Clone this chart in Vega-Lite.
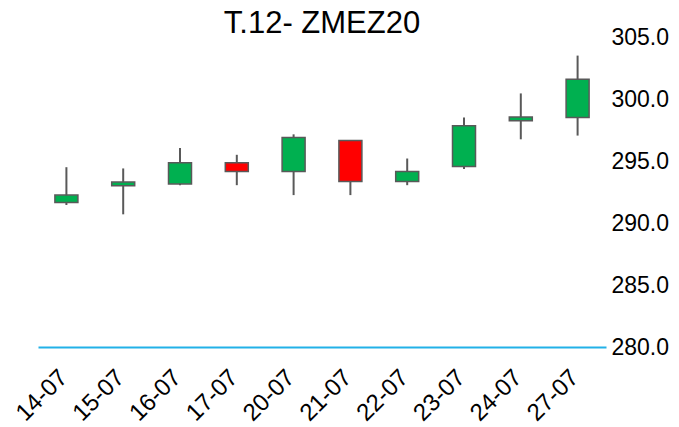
{
  "$schema": "https://vega.github.io/schema/vega-lite/v6.json",
  "autosize": "none",
  "width": 568,
  "height": 310,
  "padding": {"left": 38, "top": 37, "right": 73, "bottom": 80},
  "background": "white",
  "config": {"view": {"stroke": null}, "font": "Liberation Sans"},
  "title": {"text": "T.12- ZMEZ20", "frame": "group", "anchor": "middle", "fontSize": 31, "fontWeight": "normal", "color": "black", "baseline": "alphabetic", "offset": 0, "dy": 38, "font": "Liberation Sans"},
  "data": {"values": [
    {"date": "14-07", "open": 291.65, "close": 292.25, "high": 294.5, "low": 291.45},
    {"date": "15-07", "open": 293.0, "close": 293.3, "high": 294.4, "low": 290.7},
    {"date": "16-07", "open": 293.15, "close": 294.85, "high": 296.05, "low": 293.05},
    {"date": "17-07", "open": 294.85, "close": 294.15, "high": 295.5, "low": 293.05},
    {"date": "20-07", "open": 294.15, "close": 296.9, "high": 297.15, "low": 292.25},
    {"date": "21-07", "open": 296.65, "close": 293.35, "high": 296.65, "low": 292.25},
    {"date": "22-07", "open": 293.35, "close": 294.15, "high": 295.2, "low": 293.05},
    {"date": "23-07", "open": 294.55, "close": 297.85, "high": 298.5, "low": 294.35},
    {"date": "24-07", "open": 298.25, "close": 298.55, "high": 300.45, "low": 296.75},
    {"date": "27-07", "open": 298.5, "close": 301.6, "high": 303.5, "low": 297.05}
  ]},
  "encoding": {
    "x": {"field": "date", "type": "ordinal", "sort": null, "title": null,
      "scale": {"paddingInner": 0, "paddingOuter": 0},
      "axis": {"domainColor": "#22b1e8", "domainWidth": 2, "ticks": false, "labelAngle": -45, "labelFontSize": 24, "labelColor": "black", "labelAlign": "right", "labelBaseline": "top", "labelPadding": 18, "labelOffset": -11, "labelFont": "Liberation Sans"}},
    "y": {"type": "quantitative", "title": null,
      "scale": {"domain": [280, 305], "zero": false, "nice": false},
      "axis": {"orient": "right", "values": [280, 285, 290, 295, 300, 305], "format": ".1f", "grid": false, "domain": false, "ticks": false, "labelFontSize": 23, "labelColor": "black", "labelPadding": 5, "labelFont": "Liberation Sans"}}
  },
  "layer": [
    {"mark": {"type": "rule", "color": "#595959", "strokeWidth": 2},
     "encoding": {"y": {"field": "low", "type": "quantitative"}, "y2": {"field": "high"}}},
    {"mark": {"type": "bar", "size": 23, "stroke": "#595959", "strokeWidth": 1.5},
     "encoding": {"y": {"field": "open", "type": "quantitative"}, "y2": {"field": "close"},
       "color": {"condition": {"test": "datum.open < datum.close", "value": "#00b050"}, "value": "#ff0000"}}}
  ]
}
